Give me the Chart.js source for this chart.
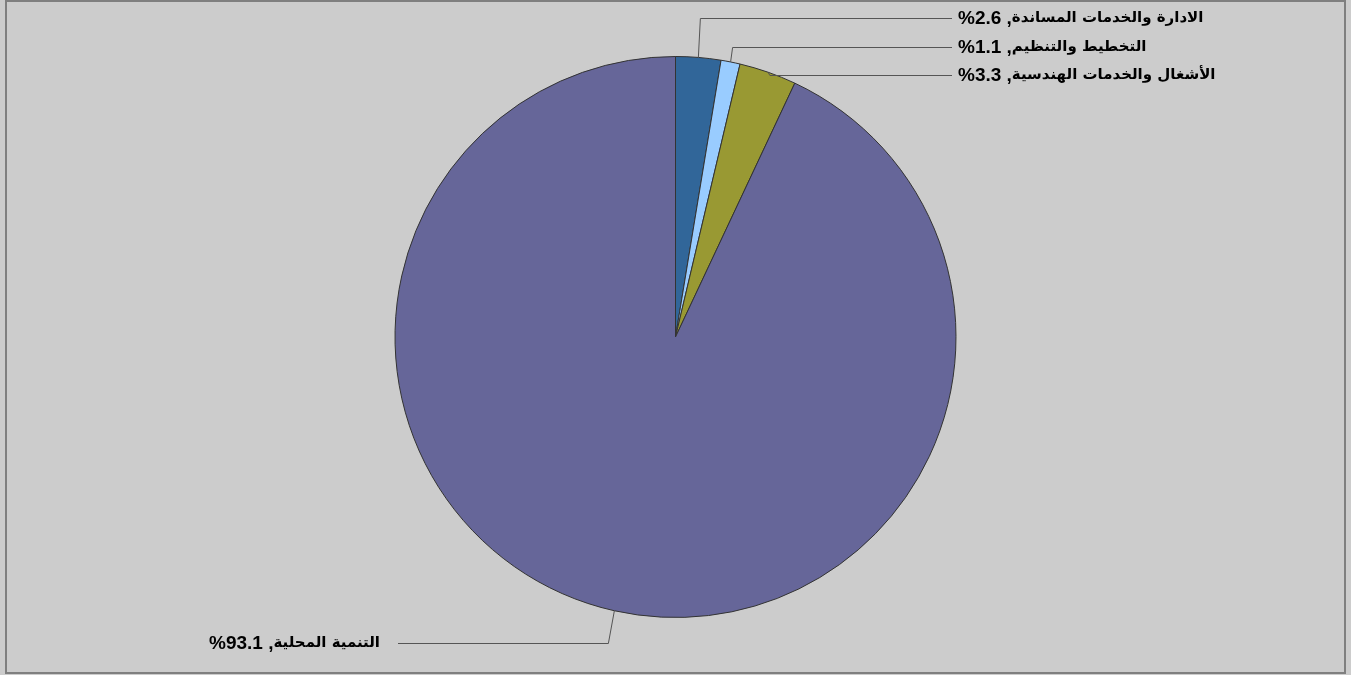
<!DOCTYPE html>
<html>
<head>
<meta charset="utf-8">
<script src="https://cdn.jsdelivr.net/npm/chart.js@4.4.0/dist/chart.umd.min.js"></script>
<style>
  html, body { margin: 0; padding: 0; background: #cccccc; }
  #wrap { width: 1351px; height: 675px; }
</style>
</head>
<body>
<div id="wrap"><canvas id="pieChart" width="1351" height="675"></canvas></div>
<script>
// data
const sectors = ['الادارة والخدمات المساندة', 'التخطيط والتنظيم', 'الأشغال والخدمات الهندسية', 'التنمية المحلية'];
const shares = [2.6, 1.1, 3.3, 93.1];
const sliceColors = ['#316699', '#99ccff', '#999933', '#666699'];

// where each label sits
const labelSpots = [
    { x: 958, y: 18, side: 'right' },
    { x: 958, y: 47, side: 'right' },
    { x: 958, y: 75, side: 'right' },
    { x: 380, y: 643, side: 'left' }
];

const numFont = 'bold 19px "Liberation Sans", Arial, sans-serif';
const arFont = 'bold 15px "DejaVu Sans", sans-serif';

const frame = {
    id: 'frame',
    beforeDraw(chart) {
        const ctx = chart.ctx;
        ctx.save();
        ctx.fillStyle = '#cccccc';
        ctx.fillRect(0, 0, chart.width, chart.height);
        ctx.strokeStyle = '#7f7f7f';
        ctx.lineWidth = 2;
        ctx.strokeRect(6, 1, 1339, 672);
        ctx.restore();
    }
};

const leaderLabels = {
    id: 'leaderLabels',
    afterDatasetsDraw(chart) {
        const ctx = chart.ctx;
        const arcs = chart.getDatasetMeta(0).data;
        ctx.save();
        ctx.textBaseline = 'middle';
        ctx.textAlign = 'left';
        ctx.direction = 'ltr';
        arcs.forEach((arc, i) => {
            const mid = (arc.startAngle + arc.endAngle) / 2;
            const px = arc.x + Math.cos(mid) * arc.outerRadius;
            const py = arc.y + Math.sin(mid) * arc.outerRadius;
            const spot = labelSpots[i];
            const numText = '%' + shares[i].toFixed(1) + ' ,';
            ctx.font = numFont;
            const wNum = ctx.measureText(numText).width;
            ctx.font = arFont;
            const wAr = ctx.measureText(sectors[i]).width;
            let ex, endX, tx;
            if (spot.side === 'right') {
                ex = Math.max(px + 2, px + (py - spot.y) * 0.05);
                endX = spot.x - 6;
                tx = spot.x;
            } else {
                ex = px - 6;
                endX = spot.x + 18;
                tx = spot.x - wNum - wAr;
            }
            ctx.strokeStyle = '#555555';
            ctx.lineWidth = 1;
            ctx.beginPath();
            ctx.moveTo(px, py);
            ctx.lineTo(ex, spot.y + 0.5);
            ctx.lineTo(endX, spot.y + 0.5);
            ctx.stroke();
            ctx.fillStyle = '#000000';
            ctx.font = numFont;
            ctx.fillText(numText, tx, spot.y + 1);
            ctx.font = arFont;
            ctx.fillText(sectors[i], tx + wNum, spot.y);
        });
        ctx.restore();
    }
};

const chart = new Chart(document.getElementById('pieChart'), {
    type: 'pie',
    data: {
        labels: sectors,
        datasets: [{
            data: shares,
            backgroundColor: sliceColors,
            borderColor: '#333333',
            borderWidth: 1
        }]
    },
    options: {
        responsive: false,
        animation: false,
        layout: { padding: { top: 56, bottom: 57, left: 0, right: 0 } },
        plugins: {
            legend: { display: false },
            tooltip: { enabled: false }
        }
    },
    plugins: [frame, leaderLabels]
});
</script>
</body>
</html>
